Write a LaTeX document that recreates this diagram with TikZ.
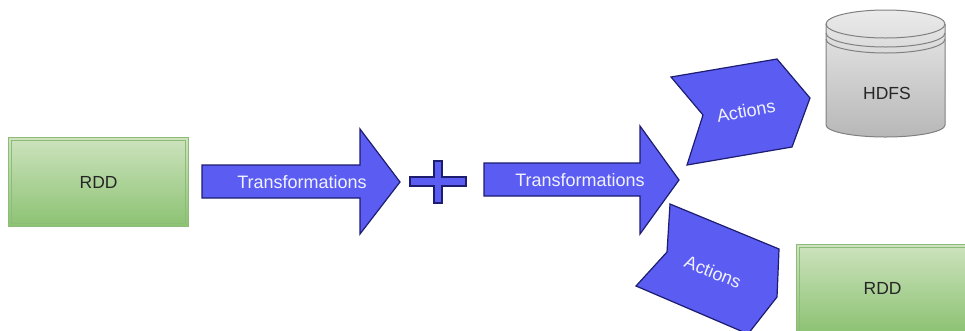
\documentclass[tikz,border=0pt]{standalone}
\usepackage{fontspec}
\setmainfont{Liberation Sans}
\usepackage{tikz}

\definecolor{blockblue}{HTML}{5A5CF2}
\definecolor{blockline}{HTML}{1C1C70}
\definecolor{rddtop}{HTML}{CDE3BE}
\definecolor{rddbot}{HTML}{8CC272}
\definecolor{rddline}{HTML}{8DBB7A}

\begin{document}
\begin{tikzpicture}[x=1pt,y=-1pt,
	block/.style={draw=blockline,fill=blockblue,line width=1.2pt,line join=miter},
	blocktext/.style={text=white!92!blockblue,font=\fontsize{18}{20}\selectfont,inner sep=0pt},
	rdd/.style={draw=rddline,line width=1.2pt,top color=rddtop,bottom color=rddbot,anchor=north west,
		text=black!85,font=\fontsize{17.5}{20}\selectfont,align=center},
	disk/.style={draw=black!50,line width=1pt}]
	\useasboundingbox (0,0) rectangle (965,330);
	% data sets
	\node[rdd,minimum width=180pt,minimum height=89pt] (rdd_0) at (8,137) {RDD};
	\node[rdd,minimum width=172pt,minimum height=88pt] (rdd_1) at (796,244) {RDD};
	\draw[rddline,line width=.7pt] (11,140) rectangle (185,223);
	\draw[rddline,line width=.7pt] (799,247) -- (968,247) (799,247) -- (799,332);
	% arrows
	\draw[block] (202,165) -- (360,165) -- (360,129) -- (400,182) -- (360,234) -- (360,198) -- (202,198) -- cycle;
	\draw[block] (484,163) -- (640,163) -- (640,126) -- (679,180) -- (640,234) -- (640,196) -- (484,196) -- cycle;
	\node[blocktext] (trans_0) at (302,182) {Transformations};
	\node[blocktext] (trans_1) at (580,180) {Transformations};
	% plus
	\draw[block] (410,177) -- (434,177) -- (434,161) -- (442,161) -- (442,177) -- (466,177) -- (466,186)
		-- (442,186) -- (442,203) -- (434,203) -- (434,186) -- (410,186) -- cycle;
	% actions
	\draw[block] (671,77) -- (777,59) -- (810,98) -- (792,147) -- (687,165) -- (703,115) -- cycle;
	\draw[block] (670,204) -- (779,249) -- (777,297) -- (748,334) -- (636,286) -- (667,252) -- cycle;
	\node[blocktext,rotate=10] (act_0) at (746,111) {Actions};
	\node[blocktext,rotate=-22] (act_1) at (713,272) {Actions};
	% hdfs
	\shade[top color=black!8,bottom color=black!28] (826,24) -- (826,125) arc[start angle=180,end angle=360,x radius=59.5pt,y radius=12pt]
		-- (945,24) arc[start angle=0,end angle=180,x radius=59.5pt,y radius=14pt] -- cycle;
	\draw[disk] (826,24) -- (826,125) arc[start angle=180,end angle=360,x radius=59.5pt,y radius=12pt] -- (945,24);
	\draw[disk] (885.5,24) ellipse[x radius=59.5pt,y radius=14pt];
	\draw[disk] (826,33) arc[start angle=180,end angle=360,x radius=59.5pt,y radius=14pt];
	\draw[disk] (826,39) arc[start angle=180,end angle=360,x radius=59.5pt,y radius=14pt];
	\node[text=black!85,font=\fontsize{17.5}{20}\selectfont,inner sep=0pt] (hdfs) at (887,93) {HDFS};
\end{tikzpicture}
\end{document}
